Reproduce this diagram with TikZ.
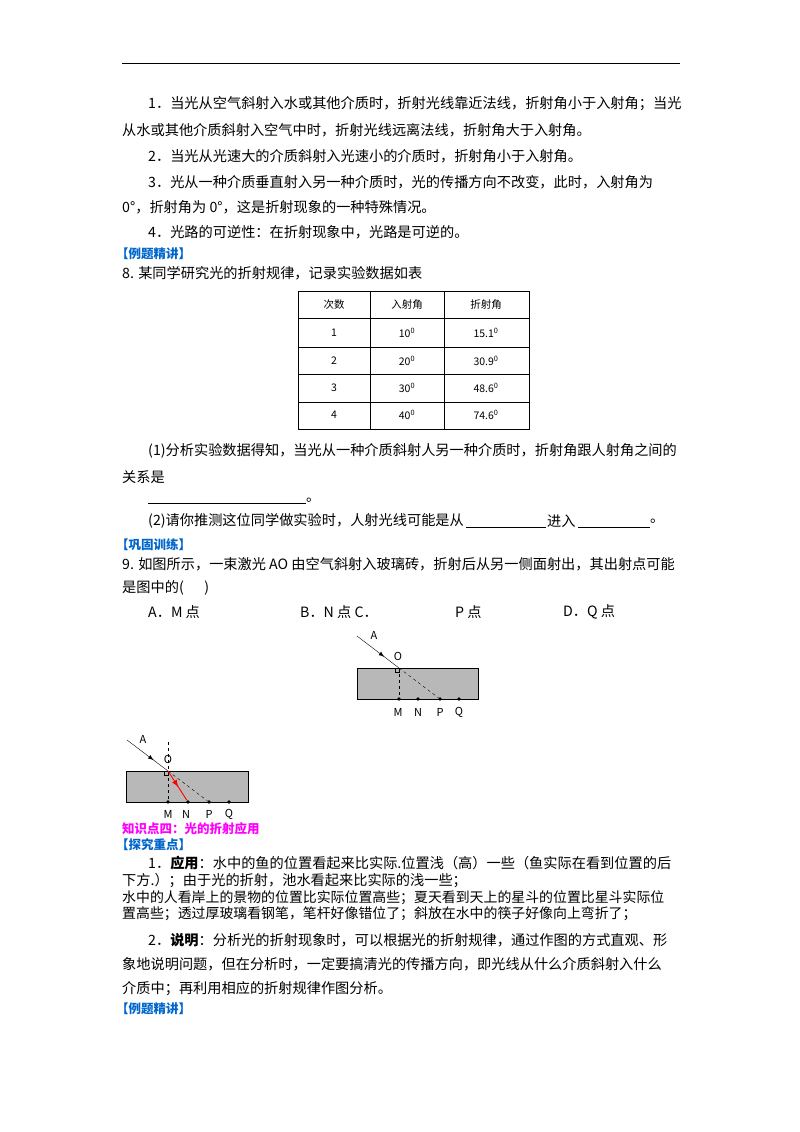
\documentclass[tikz,border=0pt]{standalone}
\usepackage{fontspec}
\setmainfont{Noto Sans CJK SC}
\usetikzlibrary{decorations.markings}
\definecolor{hblue}{RGB}{0,102,204}
\definecolor{mag}{RGB}{255,0,255}
\begin{document}
\begin{tikzpicture}[x=1pt,y=-1pt,
  t/.style={anchor=west,inner sep=0pt,font=\fontsize{14.2}{15}\selectfont},
  s/.style={anchor=west,inner sep=0pt,font=\fontsize{13.9}{15}\selectfont},
  h/.style={anchor=west,inner sep=0pt,font=\fontsize{12.5}{14}\selectfont\bfseries,text=hblue},
  tb/.style={inner sep=0pt,font=\fontsize{10.5}{12}\selectfont},
  lb/.style={inner sep=0pt,font=\fontsize{11}{12}\selectfont},
  dot/.style={circle,fill,inner sep=1.4pt},
  ray/.style={postaction={decorate},decoration={markings,mark=at position 0.65 with {\arrow[scale=1.4]{latex}}}}]
\useasboundingbox (0,0) rectangle (800,1132);
\draw[line width=0.8pt] (122,63) -- (680,63);
\node[t] (l1) at (148,104) {1．当光从空气斜射入水或其他介质时，折射光线靠近法线，折射角小于入射角；当光};
\node[t] (l2) at (122,130) {从水或其他介质斜射入空气中时，折射光线远离法线，折射角大于入射角。};
\node[t] (l3) at (148,156) {2．当光从光速大的介质斜射入光速小的介质时，折射角小于入射角。};
\node[t] (l4) at (148,182) {3．光从一种介质垂直射入另一种介质时，光的传播方向不改变，此时，入射角为};
\node[t] (l5) at (122,207) {0°，折射角为 0°，这是折射现象的一种特殊情况。};
\node[t] (l6) at (148,232) {4．光路的可逆性：在折射现象中，光路是可逆的。};
\node[h] (h1) at (116,254) {【例题精讲】};
\node[t] (q8) at (122,273) {8. 某同学研究光的折射规律，记录实验数据如表};
% table
\draw[line width=0.8pt] (298,291) rectangle (529,429);
\foreach \y in {318,347,374,402} \draw (298,\y) -- (529,\y);
\foreach \x in {370,444} \draw (\x,291) -- (\x,429);
\node[tb] (c1) at (334,305) {次数};
\node[tb] (c2) at (407,305) {入射角};
\node[tb] (c3) at (486,305) {折射角};
\node[tb] (r11) at (334,333) {1};
\node[tb] (r12) at (407,333) {10\textsuperscript{0}};
\node[tb] (r13) at (486,333) {15.1\textsuperscript{0}};
\node[tb] (r21) at (334,361) {2};
\node[tb] (r22) at (407,361) {20\textsuperscript{0}};
\node[tb] (r23) at (486,361) {30.9\textsuperscript{0}};
\node[tb] (r31) at (334,388) {3};
\node[tb] (r32) at (407,388) {30\textsuperscript{0}};
\node[tb] (r33) at (486,388) {48.6\textsuperscript{0}};
\node[tb] (r41) at (334,415) {4};
\node[tb] (r42) at (407,415) {40\textsuperscript{0}};
\node[tb] (r43) at (486,415) {74.6\textsuperscript{0}};
\node[t] (p1) at (148,451) {(1)分析实验数据得知，当光从一种介质斜射人另一种介质时，折射角跟人射角之间的};
\node[t] (p2) at (122,477) {关系是};
\draw (148,503) -- (306,503);
\node[t] (p3) at (306,500) {。};
\node[t] (p4) at (148,521) {(2)请你推测这位同学做实验时，人射光线可能是从};
\draw (466,527) -- (546,527);
\node[t] (p5) at (547,521) {进入};
\draw (578,527) -- (650,527);
\node[t] (p6) at (650,521) {。};
\node[h] (h2) at (116,545) {【巩固训练】};
\node[t] (q9) at (122,564) {9. 如图所示，一束激光 AO 由空气斜射入玻璃砖，折射后从另一侧面射出，其出射点可能};
\node[t] (q9b) at (122,588) {是图中的(\quad\ \ )};
\node[t] (oa) at (148,612) {A．M 点};
\node[t] (ob) at (300,612) {B．N 点 C．};
\node[t] (oc) at (455,612) {P 点};
\node[t] (od) at (563,612) {D．Q 点};
% diagram 1
\draw[fill=black!28,line width=0.9pt] (357,668) rectangle (478,699);
\coordinate (A1) at (357,636);
\coordinate (O1) at (399,668);
\node[dot] (M1) at (399,699) {};
\node[dot] (N1) at (418,699) {};
\node[dot] (P1) at (440,699) {};
\node[dot] (Q1) at (459,699) {};
\draw[ray] (A1) -- (O1);
\draw[dashed] (O1) -- (M1);
\draw[dashed] (O1) -- (P1);
\draw (395,668) rectangle (399,672);
\node[lb] (la1) at (374,635) {A};
\node[lb] (lo1) at (398,656) {O};
\node[lb] (lm1) at (398,712) {M};
\node[lb] (ln1) at (418,712) {N};
\node[lb] (lp1) at (440,712) {P};
\node[lb] (lq1) at (459,712) {Q};
% diagram 2
\draw[fill=black!28,line width=0.9pt] (126,771) rectangle (248,802);
\coordinate (A2) at (127,740);
\coordinate (O2) at (168,771);
\coordinate (T2) at (168,742);
\node[dot] (M2) at (168,802) {};
\node[dot] (N2) at (188,802) {};
\node[dot] (P2) at (209,802) {};
\node[dot] (Q2) at (229,802) {};
\draw[ray] (A2) -- (O2);
\draw[dashed] (T2) -- (M2);
\draw[dashed] (O2) -- (P2);
\draw (164,771) rectangle (168,775);
\draw[red,line width=0.9pt,postaction={decorate},decoration={markings,mark=at position 0.55 with {\arrow[scale=1.3]{latex}}}] (O2) -- (N2);
\node[lb] (la2) at (143,739) {A};
\node[lb] (lo2) at (168,759) {O};
\node[lb] (lm2) at (168,814) {M};
\node[lb] (ln2) at (186,814) {N};
\node[lb] (lp2) at (209,814) {P};
\node[lb] (lq2) at (229,814) {Q};
\node[h,text=mag] (k4) at (122,829) {知识点四：光的折射应用};
\node[h] (h3) at (116,845) {【探究重点】};
\node[t] (a1) at (148,863) {1．\textbf{应用}：水中的鱼的位置看起来比实际.位置浅（高）一些（鱼实际在看到位置的后};
\node[t] (a2) at (122,881) {下方.）；由于光的折射，池水看起来比实际的浅一些；};
\node[s] (a3) at (122,898) {水中的人看岸上的景物的位置比实际位置高些；夏天看到天上的星斗的位置比星斗实际位};
\node[s] (a4) at (122,914) {置高些；透过厚玻璃看钢笔，笔杆好像错位了；斜放在水中的筷子好像向上弯折了；};
\node[t] (b1) at (148,940) {2．\textbf{说明}：分析光的折射现象时，可以根据光的折射规律，通过作图的方式直观、形};
\node[t] (b2) at (122,964) {象地说明问题，但在分析时，一定要搞清光的传播方向，即光线从什么介质斜射入什么};
\node[t] (b3) at (122,989) {介质中；再利用相应的折射规律作图分析。};
\node[h] (h4) at (116,1009) {【例题精讲】};
\end{tikzpicture}
\end{document}
